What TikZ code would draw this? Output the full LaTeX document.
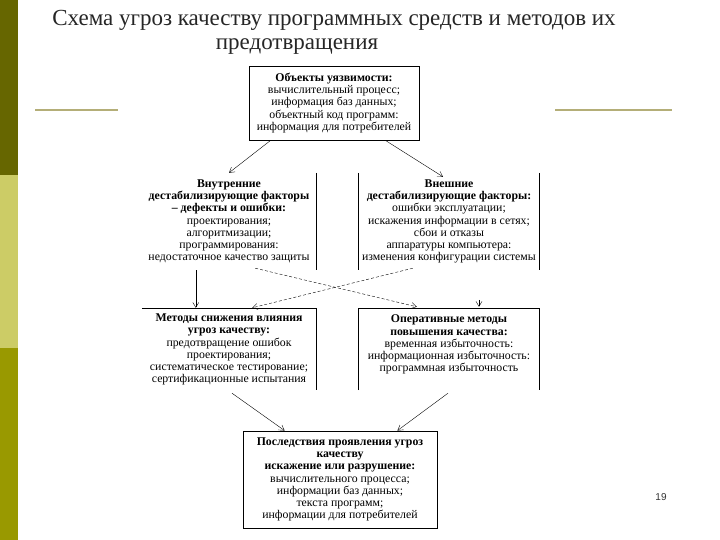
\documentclass[tikz,border=0pt]{standalone}
\usepackage{fontspec}
\setmainfont{Liberation Serif}
\newfontfamily\pagefont{Liberation Sans}
\usetikzlibrary{arrows.meta,calc}
\definecolor{barA}{HTML}{666600}
\definecolor{barB}{HTML}{CCCC66}
\definecolor{barC}{HTML}{999900}
\definecolor{rulecol}{HTML}{B4AE78}

\begin{document}
\begin{tikzpicture}[x=1pt, y=-1pt,
  txt/.style={align=center, inner sep=0pt, font=\fontsize{11.8}{12.2}\selectfont},
  frame/.style={line width=0.8pt},
  arr/.style={-{Straight Barb[length=5pt,width=6pt]}, line width=0.4pt},
  darr/.style={arr, dash pattern=on 3pt off 2pt}]
  \useasboundingbox (0,0) rectangle (720,540);
  \fill[white] (0,0) rectangle (720,540);
  \fill[barA] (0,0) rectangle (18,175);
  \fill[barB] (0,175) rectangle (18,348);
  \fill[barC] (0,348) rectangle (18,540);
  \draw[rulecol, line width=1.5pt] (35,110) -- (118,110);
  \draw[rulecol, line width=1.5pt] (555,110) -- (672,110);
  \node[font=\fontsize{23}{26}\selectfont, text=black!85] (title1) at (334,20)
    {Схема угроз качеству программных средств и методов их};
  \node[font=\fontsize{23}{26}\selectfont, text=black!85] (title2) at (297,47)
    {предотвращения};

  \node[txt, draw, frame, minimum width=170pt, minimum height=74pt] (obj) at (334,103)
    {\textbf{Объекты уязвимости:}\\ вычислительный процесс;\\ информация баз данных;\\
     объектный код программ:\\ информация для потребителей};
  \node[txt, minimum width=174pt, minimum height=97pt] (inner) at (229,221.5)
    {\textbf{Внутренние}\\ \textbf{дестабилизирующие факторы}\\ \textbf{– дефекты и ошибки:}\\
     проектирования;\\ алгоритмизации;\\ программирования:\\ недостаточное качество защиты};
  \node[txt, minimum width=180pt, minimum height=97pt] (outer) at (449,221.5)
    {\textbf{Внешние}\\ \textbf{дестабилизирующие факторы:}\\ ошибки эксплуатации;\\
     искажения информации в сетях;\\ сбои и отказы\\ аппаратуры компьютера:\\
     изменения конфигурации системы};
  \node[txt, minimum width=174pt, minimum height=81pt] (reduce) at (229,349.5)
    {\textbf{Методы снижения влияния}\\ \textbf{угроз качеству:}\\ предотвращение ошибок\\
     проектирования;\\ систематическое тестирование;\\ сертификационные испытания};
  \node[txt, minimum width=180pt, minimum height=81pt] (oper) at (449,349.5)
    {\textbf{Оперативные методы}\\ \textbf{повышения качества:}\\ временная избыточность:\\
     информационная избыточность:\\ программная избыточность\\ \mbox{}};
  \node[txt, draw, frame, minimum width=194pt, minimum height=97pt] (cons) at (340,479.5)
    {\textbf{Последствия проявления угроз}\\ \textbf{качеству}\\ \textbf{искажение или разрушение:}\\
     вычислительного процесса;\\ информации баз данных;\\ текста программ;\\
     информации для потребителей};

  \draw[frame] (inner.north east) -- (inner.south east);
  \draw[frame] (outer.north west) -- (outer.south west);
  \draw[frame] (outer.north east) -- (outer.south east);
  \draw[frame] (reduce.north west) -- (reduce.north east) -- (reduce.south east);
  \draw[frame] (oper.south west) -- (oper.north west) -- (oper.north east) -- (oper.south east);

  \draw[arr] ($(obj.south west)+(22,0)$) -- (inner.north);
  \draw[arr] ($(obj.south east)+(-34,0)$) -- ($(outer.north)+(-6,4)$);
  \draw[arr] ($(inner.south west)+(54,0)$) -- ($(reduce.north west)+(54,-1)$);
  \draw[darr] ($(inner.south east)+(-61,-2)$) -- ($(oper.north west)+(58,-2)$);
  \draw[darr] ($(outer.south west)+(54,-2)$) -- ($(reduce.north east)+(-64,-1)$);
  \draw[arr] ($(oper.north)+(30,-9)$) -- ($(oper.north)+(30,-2)$);
  \draw[arr] ($(reduce.south)+(3,3)$) -- ($(cons.north west)+(42,0)$);
  \draw[arr] ($(oper.south)+(-1,3)$) -- ($(cons.north east)+(-40,0)$);

  \node[font=\pagefont\fontsize{10}{12}\selectfont, text=black!80] (page) at (661,497) {19};
\end{tikzpicture}
\end{document}
